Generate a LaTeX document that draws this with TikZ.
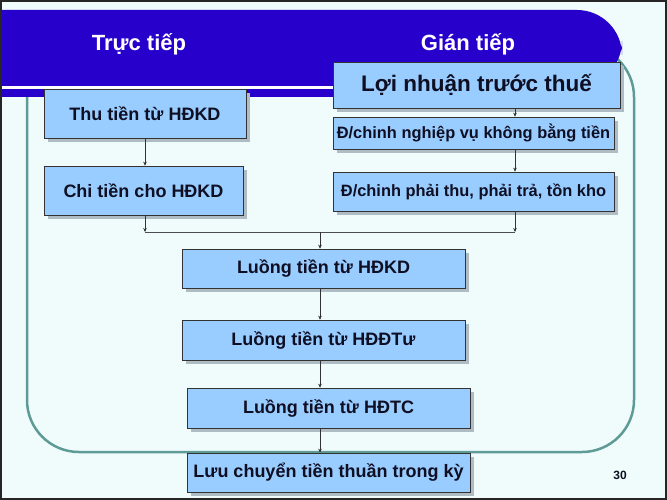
\documentclass[tikz,border=0pt]{standalone}
\usepackage{fontspec}
\setmainfont{Liberation Sans}
\usetikzlibrary{arrows.meta,shadows}
\definecolor{bandblue}{RGB}{40,0,204}
\definecolor{boxblue}{RGB}{153,204,255}
\definecolor{bgc}{RGB}{240,252,252}
\definecolor{outl}{RGB}{95,155,150}
\definecolor{shadowc}{RGB}{175,188,195}
\definecolor{txt}{RGB}{15,15,35}
\begin{document}
\begin{tikzpicture}[x=1pt,y=-1pt,
  box/.style={draw=black!80, line width=0.6pt, fill=boxblue, font=\bfseries\fontsize{18}{21}\selectfont,
    text=txt, inner sep=0pt, anchor=center,
    drop shadow={shadow xshift=4pt, shadow yshift=-4pt, fill=shadowc, opacity=1}},
  arr/.style={-{Stealth[length=4pt,width=3.5pt]}, line width=0.5pt, draw=black!80},
  conn/.style={line width=0.5pt, draw=black!70},
  head/.style={text=white, font=\bfseries\fontsize{22}{25}\selectfont}]
\useasboundingbox (0,0) rectangle (667,500);
\fill[bgc] (0,0) rectangle (667,500);
% outline
\draw[outl, line width=2.5pt, rounded corners=52pt] (27,45) rectangle (634,452);
% band
\fill[bandblue] (2,86) -- (2,10) {[rounded corners=45pt] -- (622,10) -- (622,86)} -- cycle;
\fill[white] (2,86) rectangle (622,89.5);
\fill[bandblue] (2,89.5) rectangle (622,97);
% headers
\node[head] (h1) at (139,44) {Trực tiếp};
\node[head] (h2) at (468,44) {Gián tiếp};
% boxes
\node[box, minimum width=202pt, minimum height=49pt] (thu) at (145,113.5) {Thu tiền từ HĐKD};
\node[box, minimum width=199pt, minimum height=49pt] (chi) at (143.5,190.5) {Chi tiền cho HĐKD};
\node[box, minimum width=287pt, minimum height=46pt, font=\bfseries\fontsize{22.5}{26}\selectfont] (loi) at (476.5,85) {Lợi nhuận trước thuế};
\node[box, minimum width=281pt, minimum height=32pt, font=\bfseries\fontsize{16.4}{19}\selectfont] (dc1) at (473.5,133) {Đ/chinh nghiệp vụ không bằng tiền};
\node[box, minimum width=281pt, minimum height=39pt, font=\bfseries\fontsize{16.4}{19}\selectfont] (dc2) at (473.5,191.5) {Đ/chinh phải thu, phải trả, tồn kho};
\node[box, minimum width=283pt, minimum height=39pt] (l1) at (323.5,268.5) {Luồng tiền từ HĐKD};
\node[box, minimum width=283pt, minimum height=40pt] (l2) at (323.5,340) {Luồng tiền từ HĐĐTư};
\node[box, minimum width=283pt, minimum height=40pt] (l3) at (328.5,408) {Luồng tiền từ HĐTC};
\node[box, minimum width=283pt, minimum height=39pt] (lc) at (328.5,472.5) {Lưu chuyển tiền thuần trong kỳ};
\node[font=\bfseries\fontsize{12}{14}\selectfont, text=txt] (pg) at (620,475) {30};
% connectors
\coordinate (jl) at (145,232);
\coordinate (jr) at (515,232);
\coordinate (jm) at (320,232);
\draw[arr] (thu.south -| jl) -- (chi.north -| jl);
\draw[arr] (chi.south -| jl) -- (jl);
\draw[arr] (loi.south -| jr) -- (dc1.north -| jr);
\draw[arr] (dc1.south -| jr) -- (dc2.north -| jr);
\draw[arr] (dc2.south -| jr) -- (jr);
\draw[conn] (jl) -- (jr);
\draw[arr] (jm) -- (l1.north -| jm);
\draw[arr] (l1.south -| jm) -- (l2.north -| jm);
\draw[arr] (l2.south -| jm) -- (l3.north -| jm);
\draw[arr] (l3.south -| jm) -- (lc.north -| jm);
% frame
\draw[black!85, line width=2pt] (1,1) rectangle (666,499);
\end{tikzpicture}
\end{document}
